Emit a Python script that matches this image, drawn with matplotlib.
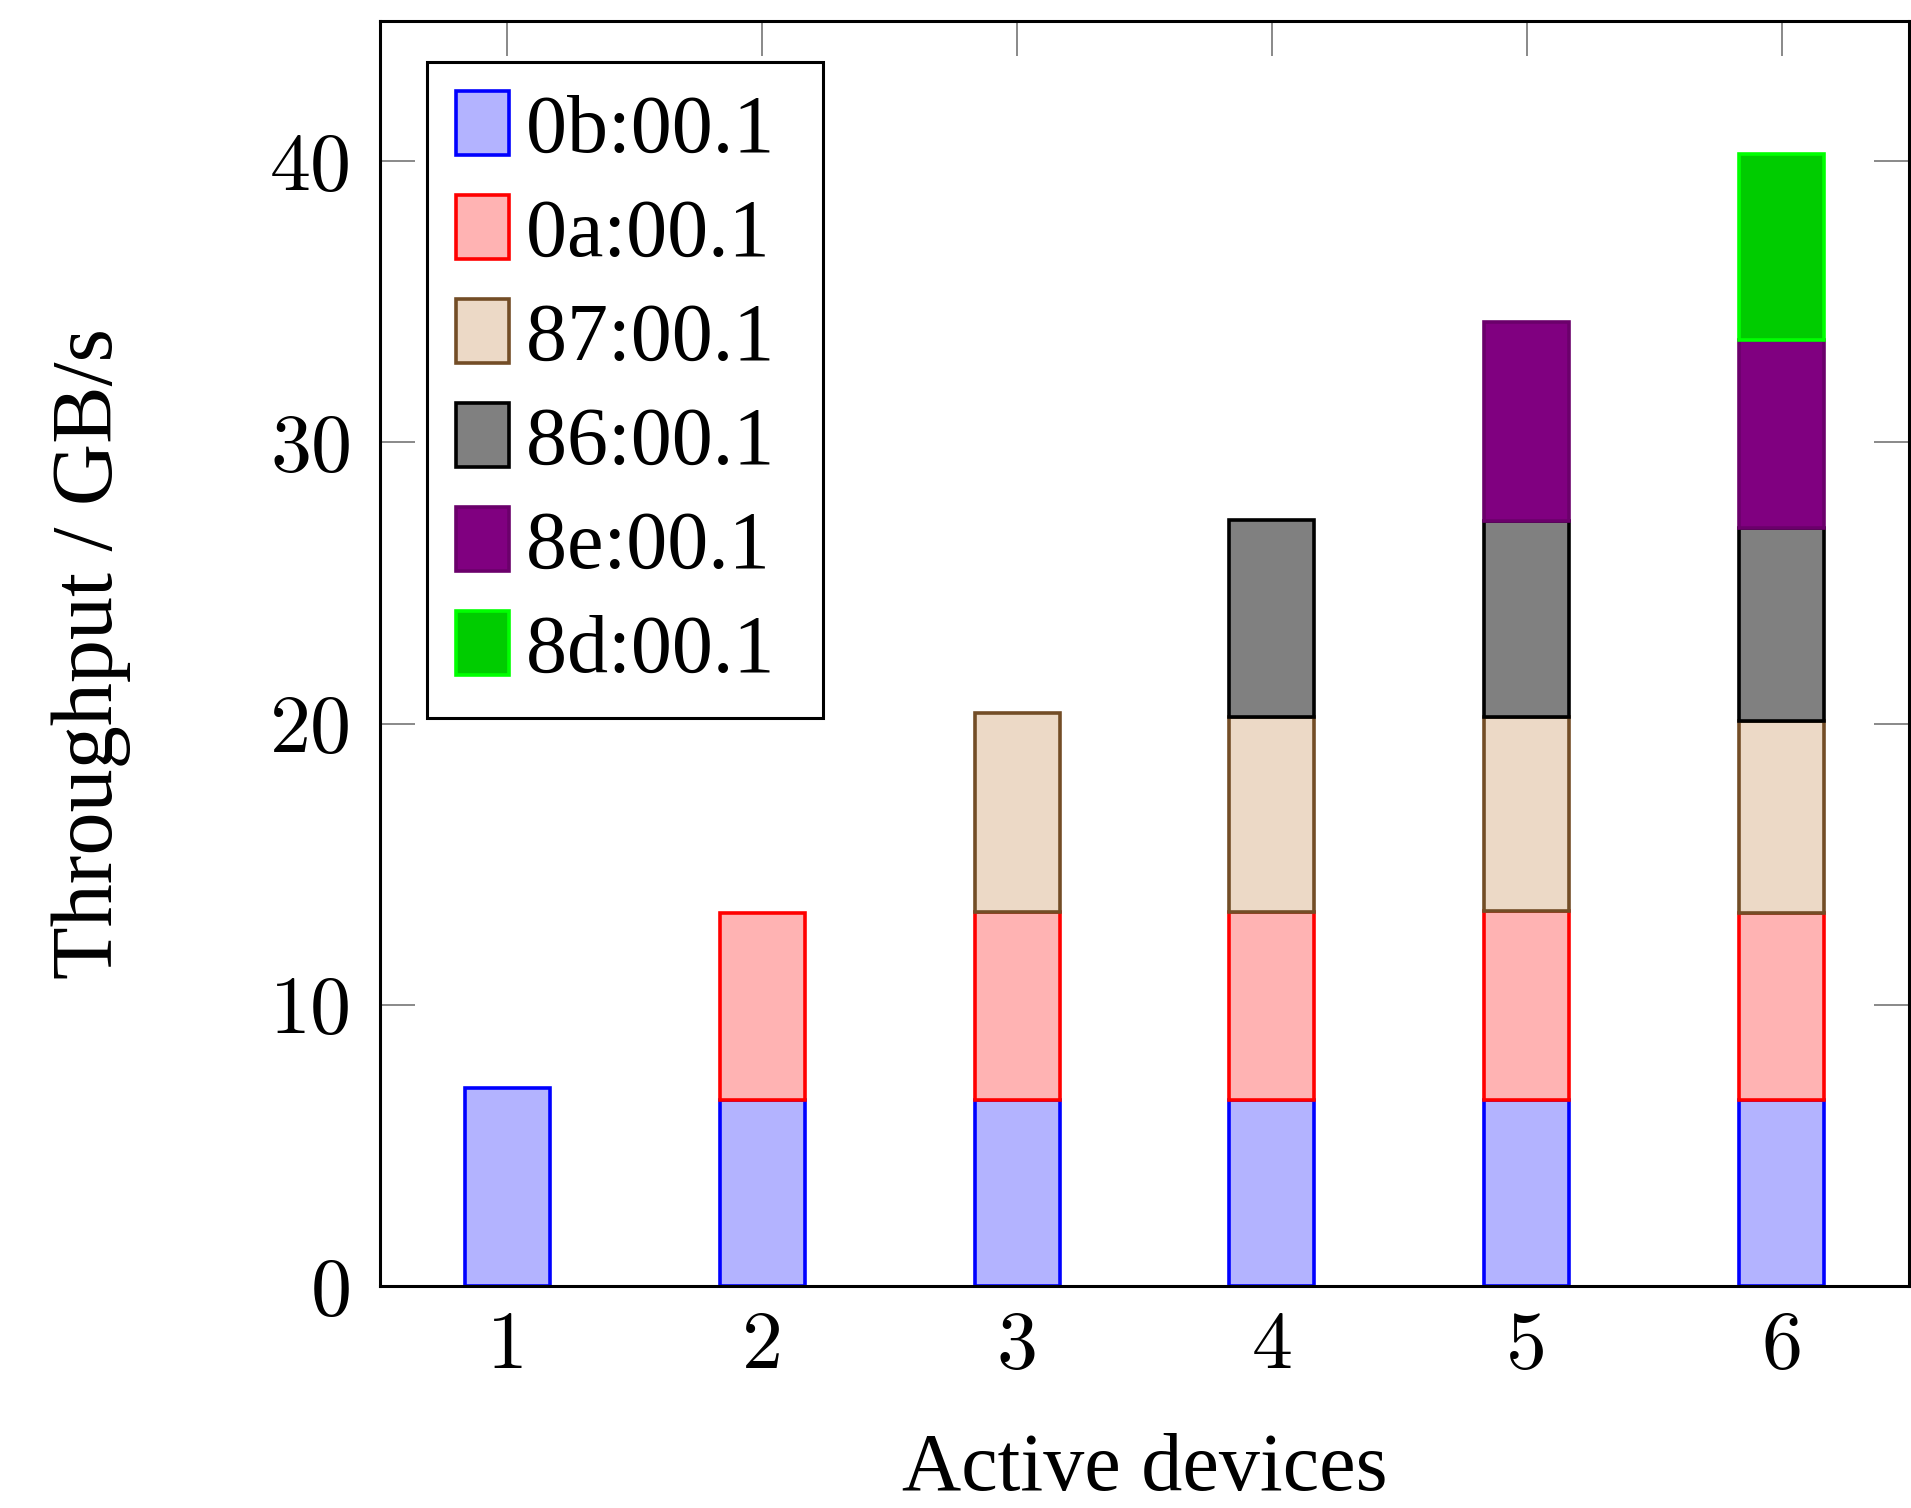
import numpy as np
import matplotlib
matplotlib.use("Agg")
import matplotlib.pyplot as plt

# active devices on x, stacked throughput per device in GB/s
devices = [1, 2, 3, 4, 5, 6]
names = ["0b:00.1", "0a:00.1", "87:00.1", "86:00.1", "8e:00.1", "8d:00.1"]
tp_0b = [7.05, 6.62, 6.62, 6.62, 6.63, 6.62]
tp_0a = [None, 6.66, 6.68, 6.68, 6.70, 6.64]
tp_87 = [None, None, 7.08, 6.94, 6.89, 6.85]
tp_86 = [None, None, None, 7.00, 6.98, 6.83]
tp_8e = [None, None, None, None, 7.08, 6.69]
tp_8d = [None, None, None, None, None, 6.64]
series = [tp_0b, tp_0a, tp_87, tp_86, tp_8e, tp_8d]

fills = [(0.7, 0.7, 1.0), (1.0, 0.7, 0.7), (0.925, 0.85, 0.775),
         (0.5, 0.5, 0.5), (0.5, 0.0, 0.5), (0.0, 0.8, 0.0)]
edges = [(0, 0, 1), (1, 0, 0), (0.45, 0.3, 0.15),
         (0, 0, 0), (0.42, 0.0, 0.42), (0.0, 1.0, 0.0)]

serif = ["Liberation Serif", "DejaVu Serif"]
fs = 59

fig = plt.figure(figsize=(19.11, 15.08), dpi=100)
ax = fig.add_axes([0.1988, 0.1472, 0.8002, 0.8391])

bottom = np.zeros(len(devices))
for vals, name, fc, ec in zip(series, names, fills, edges):
    x = [d for d, v in zip(devices, vals) if v is not None]
    h = [v for v in vals if v is not None]
    b = [bottom[i] for i, v in enumerate(vals) if v is not None]
    # trailing space gives the wider right margin of the pgfplots legend
    ax.bar(x, h, width=0.333, bottom=b, facecolor=fc, edgecolor=ec,
           linewidth=2.6, label=name + " ")
    for i, v in enumerate(vals):
        if v is not None:
            bottom[i] += v

ax.set_xlim(0.5, 6.5)
ax.set_ylim(0, 45)
ax.set_xticks(devices)
ax.set_yticks([0, 10, 20, 30, 40])
ax.set_axisbelow(True)
ax.tick_params(direction="in", length=25, width=1.3, color="gray",
               top=True, right=True, labelsize=fs)
ax.tick_params(axis="x", pad=18)
ax.tick_params(axis="y", pad=20)
for lab in ax.get_xticklabels() + ax.get_yticklabels():
    lab.set_family("cmr10")
for s in ax.spines.values():
    s.set_linewidth(2.2)

ax.set_xlabel("Active devices", family=serif, fontsize=fs, labelpad=35)
ax.set_ylabel("Throughput / GB/s", family=serif, fontsize=62, labelpad=100)

leg = ax.legend(loc="upper left", bbox_to_anchor=(0.031, 0.967),
                borderaxespad=0, prop={"family": serif, "size": fs},
                fancybox=False, edgecolor="black", framealpha=1,
                handlelength=0.65, handleheight=0.83, handletextpad=0.2,
                labelspacing=0.31, borderpad=0.35)
leg.get_frame().set_linewidth(2.2)

fig.savefig("out.png", dpi=100)
